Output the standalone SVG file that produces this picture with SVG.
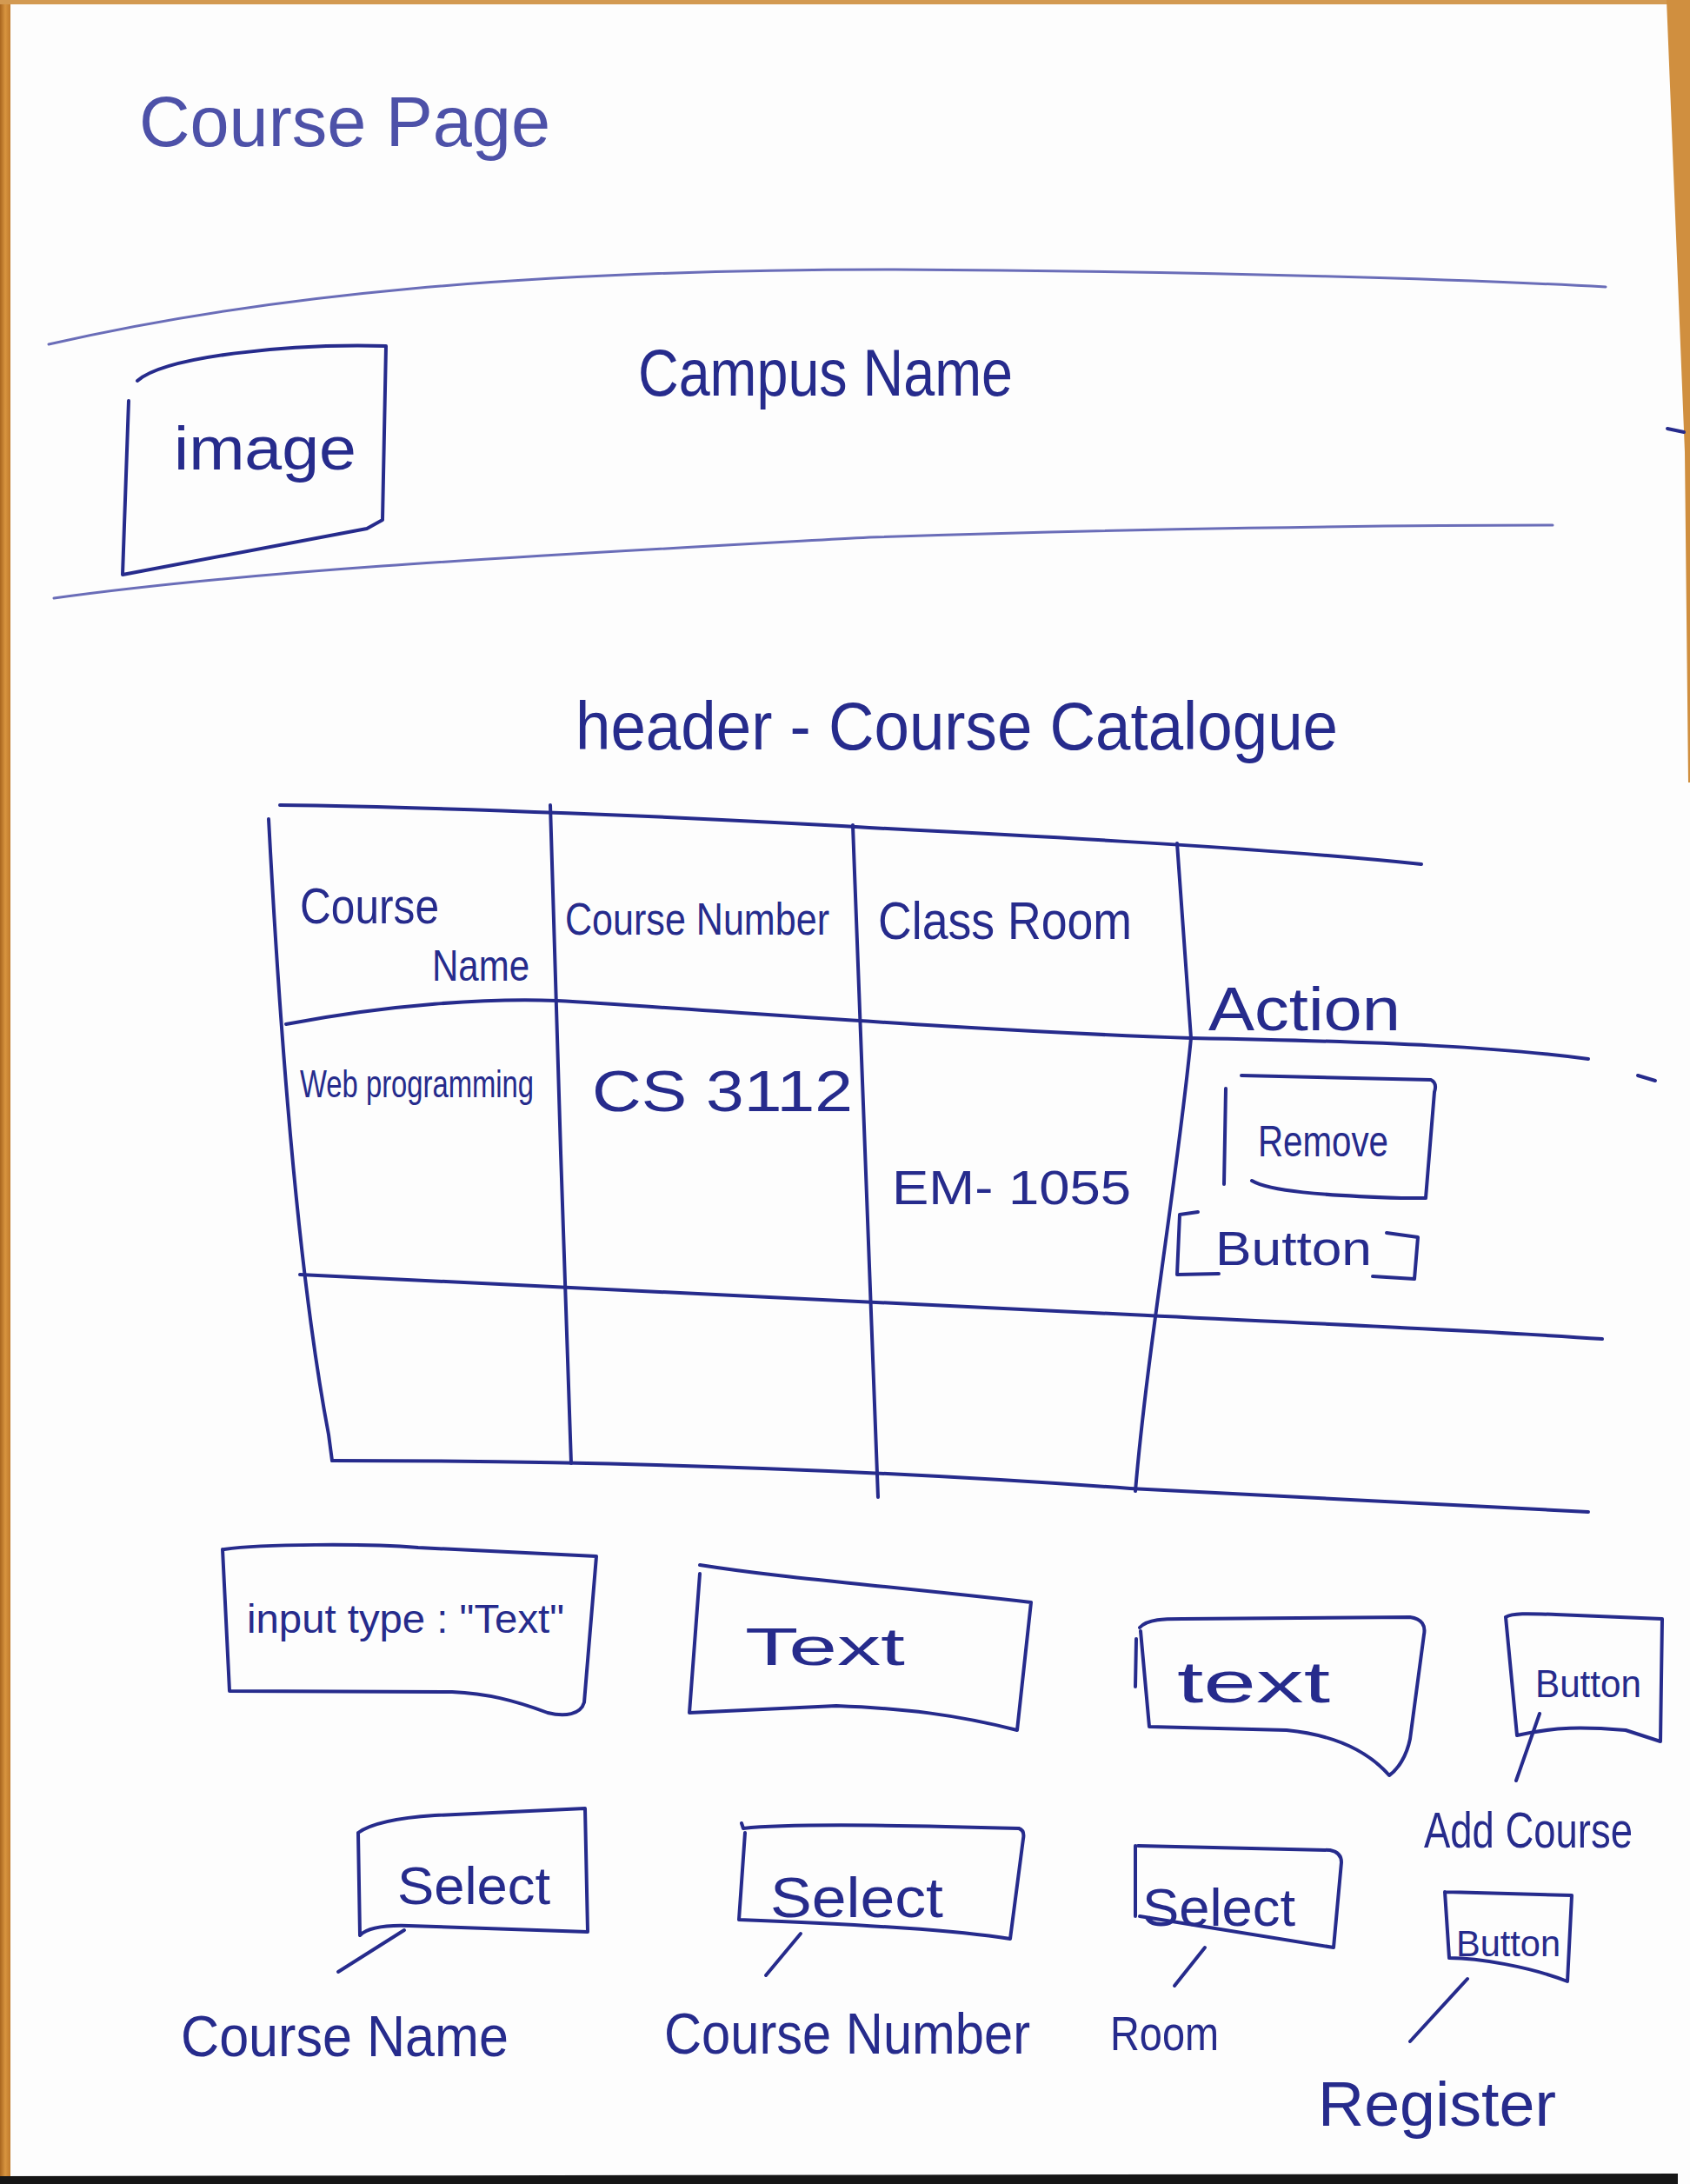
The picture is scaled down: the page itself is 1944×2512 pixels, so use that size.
<svg xmlns="http://www.w3.org/2000/svg" width="1944" height="2512" viewBox="0 0 1944 2512">
  <defs>
    <linearGradient id="wood" x1="0" y1="0" x2="1" y2="0">
      <stop offset="0" stop-color="#a8651f"/>
      <stop offset="0.5" stop-color="#d8953f"/>
      <stop offset="1" stop-color="#c07a2c"/>
    </linearGradient>
  </defs>
  <style>
    .ink { fill: none; stroke: #262b8c; stroke-width: 4; stroke-linecap: round; stroke-linejoin: round; }
    .faint { fill: none; stroke: #6a6db8; stroke-width: 3; stroke-linecap: round; }
    .hand { font-family: "Liberation Sans", "DejaVu Sans", sans-serif; fill: #262b8c; }
    .soft { fill: #4d51a8; }
  </style>

  <!-- sheet of paper on a desk -->
  <rect x="0" y="0" width="1944" height="2512" fill="#fdfdfd"/>
  <rect x="0" y="0" width="12" height="2505" fill="url(#wood)"/>
  <rect x="0" y="0" width="1944" height="5" fill="#d39a52"/>
  <path d="M1917,0 L1944,0 L1944,900 L1942,900 L1938,520 Z" fill="#d08f3f"/>
  <path d="M0,2503 L1930,2500 L1930,2512 L0,2512 Z" fill="#161616"/>

  <!-- page title -->
  <g id="title">
    <text class="hand soft" x="160" y="168" font-size="82" textLength="473" lengthAdjust="spacingAndGlyphs">Course Page</text>
  </g>

  <!-- site header band -->
  <g id="header-band">
    <path class="faint" d="M56,396 C300,340 600,310 1030,310 C1400,312 1700,322 1847,330"/>
    <path class="faint" d="M62,688 C300,655 600,640 1000,618 C1300,608 1600,604 1786,604"/>
  </g>

  <g id="image-box">
    <path class="ink" stroke-width="3" d="M158,438 C190,410 330,395 444,398 L440,598 L422,608 L141,661 L148,461"/>
    <text class="hand" x="200" y="540" font-size="70" textLength="210" lengthAdjust="spacingAndGlyphs">image</text>
  </g>

  <g id="campus-name">
    <text class="hand" x="734" y="455" font-size="76" textLength="431" lengthAdjust="spacingAndGlyphs">Campus Name</text>
  </g>

  <g id="catalogue-header">
    <text class="hand" x="662" y="862" font-size="78" textLength="877" lengthAdjust="spacingAndGlyphs">header - Course Catalogue</text>
  </g>

  <!-- course table -->
  <g id="course-table">
    <path class="ink" d="M322,926 C500,928 800,940 1000,952 C1200,962 1450,975 1635,994"/>
    <path class="ink" d="M309,942 C320,1150 340,1450 378,1650 L382,1680"/>
    <path class="ink" d="M633,926 C640,1150 648,1450 657,1683"/>
    <path class="ink" d="M981,949 C990,1200 1000,1450 1010,1722"/>
    <path class="ink" d="M1354,970 L1370,1194 C1355,1350 1320,1550 1306,1715"/>
    <path class="ink" d="M329,1178 C450,1155 560,1148 641,1151 C800,1160 1100,1185 1370,1194 C1600,1198 1730,1205 1827,1218"/>
    <path class="ink" d="M345,1466 C700,1482 1000,1497 1300,1512 C1500,1522 1700,1530 1843,1540"/>
    <path class="ink" d="M382,1680 C700,1680 1000,1690 1300,1712 C1550,1725 1700,1733 1827,1739"/>

    <text class="hand" x="345" y="1062" font-size="58" textLength="160" lengthAdjust="spacingAndGlyphs">Course</text>
    <text class="hand" x="497" y="1128" font-size="50" textLength="112" lengthAdjust="spacingAndGlyphs">Name</text>
    <text class="hand" x="650" y="1075" font-size="52" textLength="304" lengthAdjust="spacingAndGlyphs">Course Number</text>
    <text class="hand" x="1010" y="1080" font-size="62" textLength="292" lengthAdjust="spacingAndGlyphs">Class Room</text>
    <text class="hand" x="1390" y="1185" font-size="70" textLength="221" lengthAdjust="spacingAndGlyphs">Action</text>
    <text class="hand" x="345" y="1262" font-size="44" textLength="269" lengthAdjust="spacingAndGlyphs">Web programming</text>
    <text class="hand" x="681" y="1278" font-size="66" textLength="300" lengthAdjust="spacingAndGlyphs">CS 3112</text>
    <text class="hand" x="1026" y="1385" font-size="56" textLength="275" lengthAdjust="spacingAndGlyphs">EM- 1055</text>
  </g>

  <g id="remove-button">
    <path class="ink" d="M1428,1237 L1646,1242 C1652,1245 1652,1250 1650,1256 L1640,1378 L1612,1378 C1520,1375 1460,1370 1440,1358"/>
    <path class="ink" d="M1410,1252 L1408,1362"/>
    <text class="hand" x="1447" y="1330" font-size="50" textLength="150" lengthAdjust="spacingAndGlyphs">Remove</text>
    <path class="ink" d="M1378,1394 L1357,1397 L1354,1466 L1402,1465"/>
    <path class="ink" d="M1595,1418 L1631,1423 L1627,1471 L1579,1468"/>
    <text class="hand" x="1398" y="1455" font-size="56" textLength="180" lengthAdjust="spacingAndGlyphs">Button</text>
  </g>

  <!-- form controls -->
  <g id="input-course-name">
    <path class="ink" d="M258,1782 C300,1776 420,1775 481,1780 L686,1790 L672,1958 C668,1972 650,1975 630,1970 C590,1955 560,1948 520,1946 L264,1945 L256,1782"/>
    <text class="hand" x="284" y="1878" font-size="46" textLength="365" lengthAdjust="spacingAndGlyphs">input type : "Text"</text>
  </g>

  <g id="input-course-number">
    <path class="ink" d="M805,1800 C900,1815 1000,1822 1186,1843 L1170,1990 C1100,1972 1040,1965 962,1962 L793,1970 L805,1810"/>
    <text class="hand" x="857" y="1915" font-size="62" textLength="184" lengthAdjust="spacingAndGlyphs">Text</text>
  </g>

  <g id="input-room">
    <path class="ink" d="M1311,1872 C1320,1862 1340,1862 1360,1862 L1622,1860 C1636,1862 1640,1870 1638,1880 L1622,2000 C1618,2020 1608,2035 1598,2042 C1570,2010 1530,1995 1480,1990 L1322,1986 L1312,1876"/>
    <path class="ink" d="M1307,1885 L1306,1940"/>
    <text class="hand" x="1354" y="1958" font-size="66" textLength="176" lengthAdjust="spacingAndGlyphs">text</text>
  </g>

  <g id="add-course-button">
    <path class="ink" d="M1732,1860 C1740,1855 1760,1856 1790,1857 L1912,1862 L1910,2003 L1870,1990 C1820,1986 1790,1986 1745,1996 L1732,1860"/>
    <text class="hand" x="1766" y="1952" font-size="44" textLength="122" lengthAdjust="spacingAndGlyphs">Button</text>
    <text class="hand" x="1638" y="2125" font-size="58" textLength="240" lengthAdjust="spacingAndGlyphs">Add Course</text>
  </g>

  <g id="select-course-name">
    <path class="ink" d="M412,2108 C430,2095 470,2090 500,2088 L673,2080 L676,2222 L470,2215 C440,2214 422,2218 414,2226 L412,2108"/>
    <text class="hand" x="457" y="2190" font-size="62" textLength="176" lengthAdjust="spacingAndGlyphs">Select</text>
    <text class="hand" x="208" y="2365" font-size="66" textLength="377" lengthAdjust="spacingAndGlyphs">Course Name</text>
  </g>

  <g id="select-course-number">
    <path class="ink" d="M853,2097 L855,2103 C900,2098 1000,2098 1172,2103 C1178,2105 1178,2110 1177,2115 L1162,2230 C1100,2220 1000,2214 850,2208 L857,2108"/>
    <text class="hand" x="886" y="2205" font-size="64" textLength="199" lengthAdjust="spacingAndGlyphs">Select</text>
    <text class="hand" x="764" y="2362" font-size="66" textLength="421" lengthAdjust="spacingAndGlyphs">Course Number</text>
  </g>

  <g id="select-room">
    <path class="ink" d="M1309,2123 L1530,2128 C1540,2130 1543,2135 1543,2142 L1534,2240 L1311,2204 M1306,2204 L1306,2123"/>
    <text class="hand" x="1314" y="2215" font-size="62" textLength="176" lengthAdjust="spacingAndGlyphs">Select</text>
    <text class="hand" x="1277" y="2358" font-size="56" textLength="125" lengthAdjust="spacingAndGlyphs">Room</text>
  </g>

  <g id="register-button">
    <path class="ink" d="M1662,2176 L1808,2180 L1803,2279 C1760,2262 1700,2252 1667,2252 L1662,2176"/>
    <text class="hand" x="1675" y="2250" font-size="42" textLength="120" lengthAdjust="spacingAndGlyphs">Button</text>
    <text class="hand" x="1516" y="2445" font-size="72" textLength="274" lengthAdjust="spacingAndGlyphs">Register</text>
  </g>

  <!-- leader lines from controls to their labels -->
  <g id="connectors">
    <path class="ink" d="M1771,1971 L1744,2048"/>
    <path class="ink" d="M465,2220 L389,2268"/>
    <path class="ink" d="M921,2224 L881,2272"/>
    <path class="ink" d="M1386,2240 L1351,2284"/>
    <path class="ink" d="M1688,2276 L1622,2348"/>
  </g>

  <!-- stray pen marks near the right edge -->
  <g id="marks">
    <path class="ink" stroke-width="3" d="M1918,493 L1937,497"/>
    <path class="ink" stroke-width="3" d="M1884,1237 L1904,1243"/>
  </g>
</svg>
